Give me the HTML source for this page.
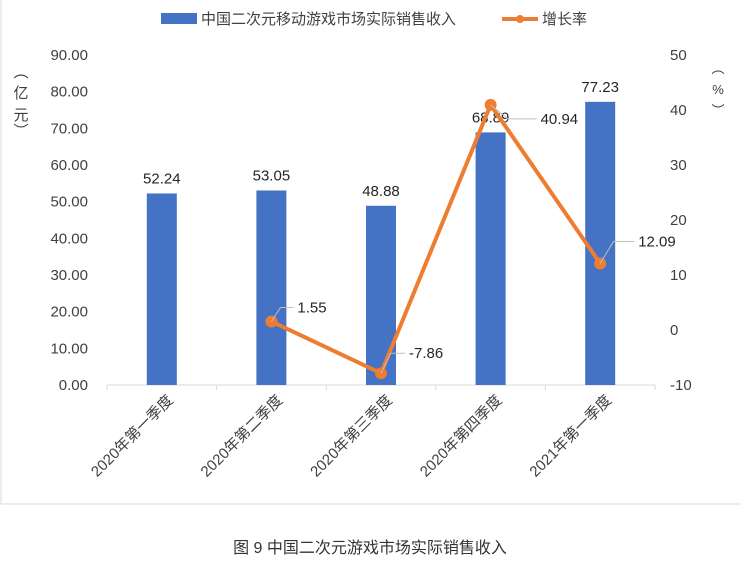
<!DOCTYPE html>
<html><head><meta charset="utf-8"><style>
body{margin:0;background:#fff;}
svg{display:block;font-family:"Liberation Sans","Noto Sans CJK SC",sans-serif;}
</style></head><body>
<svg id="chart" width="741" height="571">
<rect x="1" y="-2" width="760" height="506" fill="#fff" stroke="#d9d9d9"/>
<g id="legend">
<g><rect x="161" y="13" width="36" height="11" fill="#4472c4"/><text x="201" y="24" font-size="15" fill="#404040">中国二次元移动游戏市场实际销售收入</text></g>
<g><line x1="502" y1="19" x2="538" y2="19" stroke="#ed7d31" stroke-width="4"/><circle cx="520" cy="19" r="4" fill="#ed7d31"/><text x="542" y="24" font-size="15" fill="#404040">增长率</text></g>
</g>
<g font-size="15" fill="#404040"><text x="21" y="77" text-anchor="middle">︵</text><text x="21" y="136" text-anchor="middle">︶</text><text x="21" y="98" text-anchor="middle">亿</text><text x="21" y="120" text-anchor="middle">元</text></g>
<g font-size="13" fill="#404040"><text x="718" y="73" text-anchor="middle">︵</text><text x="718" y="115" text-anchor="middle">︶</text><text x="718" y="94" text-anchor="middle">%</text></g>
<g id="axes"></g><g id="bars"></g><g id="line"></g>
<text x="370" y="553" text-anchor="middle" font-size="16" fill="#333">图 9  中国二次元游戏市场实际销售收入</text>
</svg>
<script>
const categories=["2020年第一季度","2020年第二季度","2020年第三季度","2020年第四季度","2021年第一季度"];
const revenue=[52.24,53.05,48.88,68.89,77.23];
const growth=[null,1.55,-7.86,40.94,12.09];
const leftTicks=[0,10,20,30,40,50,60,70,80,90];
const rightTicks=[-10,0,10,20,30,40,50];
const NS="http://www.w3.org/2000/svg";
const X0=107,X1=655,Y0=385,Y1=55;
const bw=(X1-X0)/categories.length;
const xC=i=>X0+bw*(i+0.5);
const yL=v=>Y0-(v-0)/(90-0)*(Y0-Y1);
const yR=v=>Y0-(v+10)/(60)*(Y0-Y1);
function mk(t,a,p){const e=document.createElementNS(NS,t);for(const k in a)e.setAttribute(k,a[k]);p.appendChild(e);return e;}
const ax=document.getElementById('axes'),bars=document.getElementById('bars'),ln=document.getElementById('line');
const base=mk('line',{x1:X0,y1:Y0,x2:X1,y2:Y0,stroke:'#d9d9d9'},ax);


for(let i=0;i<=categories.length;i++){mk('line',{x1:X0+bw*i,y1:Y0,x2:X0+bw*i,y2:Y0+5,stroke:'#d9d9d9'},ax);}
leftTicks.forEach(v=>{const t=mk('text',{x:88,y:yL(v)+5,'text-anchor':'end','font-size':15,fill:'#404040'},ax);t.textContent=v.toFixed(2);

});
rightTicks.forEach(v=>{const t=mk('text',{x:670,y:yR(v)+5,'font-size':15,fill:'#404040'},ax);t.textContent=v;

});
categories.forEach((c,i)=>{const t=mk('text',{transform:`translate(${xC(i)+12},${Y0+16}) rotate(-45)`,'text-anchor':'end','font-size':15,fill:'#404040'},ax);t.textContent=c;

});
revenue.forEach((v,i)=>{const r=mk('rect',{x:xC(i)-15,y:yL(v),width:30,height:Y0-yL(v),fill:'#4472c4'},bars);


const t=mk('text',{x:xC(i),y:yL(v)-10,'text-anchor':'middle','font-size':15,fill:'#262626'},bars);t.textContent=v.toFixed(2);

});
let pts=[];growth.forEach((v,i)=>{if(v!==null)pts.push([xC(i),yR(v),v]);});
const pl=mk('polyline',{points:pts.map(p=>p[0]+','+p[1]).join(' '),fill:'none',stroke:'#ed7d31','stroke-width':4,'stroke-linejoin':'round'},ln);


const offs=[[26,-14],[28,-20],[50,14],[38,-22]];
pts.forEach((p,k)=>{const c=mk('circle',{cx:p[0],cy:p[1],r:6,fill:'#ed7d31'},ln);


const o=offs[k];const lx=p[0]+o[0],ly=p[1]+o[1];
mk('polyline',{points:`${p[0]},${p[1]} ${p[0]+o[0]*0.35},${ly} ${lx-4},${ly}`,fill:'none',stroke:'#bfbfbf'},ln);
const t=mk('text',{x:lx,y:ly+5,'font-size':15,fill:'#262626'},ln);t.textContent=p[2].toFixed(2);

});
</script>
</body></html>
